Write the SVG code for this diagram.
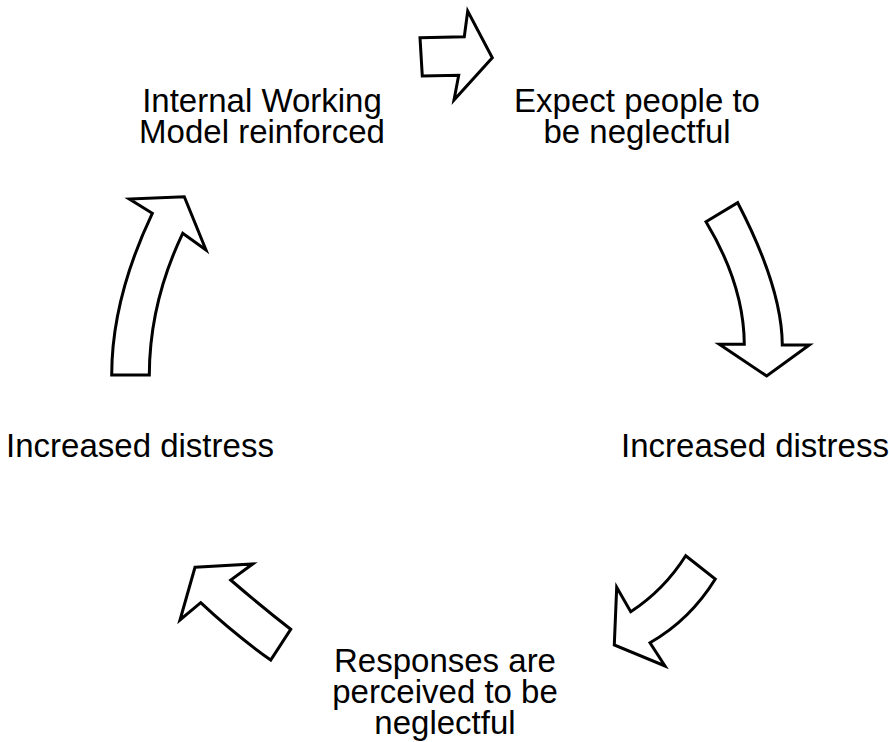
<svg xmlns="http://www.w3.org/2000/svg" width="889" height="742" viewBox="0 0 889 742">
<style>
.lbl{font-family:"Liberation Sans",Arial,sans-serif;font-size:33px;fill:#000;text-anchor:middle}
.arr{fill:#fff;stroke:#000;stroke-width:3;stroke-linejoin:miter}
</style>
<rect width="889" height="742" fill="#fff"/>
<g id="node-iwm"><text class="lbl" x="262" y="112">Internal Working</text><text class="lbl" x="262" y="143">Model reinforced</text></g>
<g id="node-expect"><text class="lbl" x="637" y="112">Expect people to</text><text class="lbl" x="637" y="143">be neglectful</text></g>
<g id="node-distress-right"><text class="lbl" x="755" y="457">Increased distress</text></g>
<g id="node-responses"><text class="lbl" x="445" y="672">Responses are</text><text class="lbl" x="445" y="703">perceived to be</text><text class="lbl" x="445" y="734">neglectful</text></g>
<g id="node-distress-left"><text class="lbl" x="140" y="457">Increased distress</text></g>
<g id="connectors">
<path class="arr" d="M420,37.7 L464.3,36.7 L467.7,11 L492.3,57.7 L454,100 L458.7,75.3 L422.3,76 Z"/>
<path class="arr" d="M706,221.7 L737.7,202.7 Q782,288 782.3,345 L809.3,345 L766.7,376 L719.3,344.3 L744.3,344.3 Q744,285 706,221.7 Z"/>
<path class="arr" d="M111.7,375 L149.3,375 Q149.5,303 182.7,233.3 L206,250 L184.3,196.7 L129.3,199 L152.3,213.3 Q111.7,299 111.7,375 Z"/>
<path class="arr" d="M685.7,555.7 L715.3,579 Q690,620 650,642.7 L665,666 L614.3,645 L616.7,587.3 L630.7,611.7 Q664,590 685.7,555.7 Z"/>
<path class="arr" d="M195,567.3 L252.7,564 L230.7,580 Q262,607 290.7,629.3 L270.7,660 Q234,634 200.7,602.7 L180,620 Z"/>
</g>
</svg>
